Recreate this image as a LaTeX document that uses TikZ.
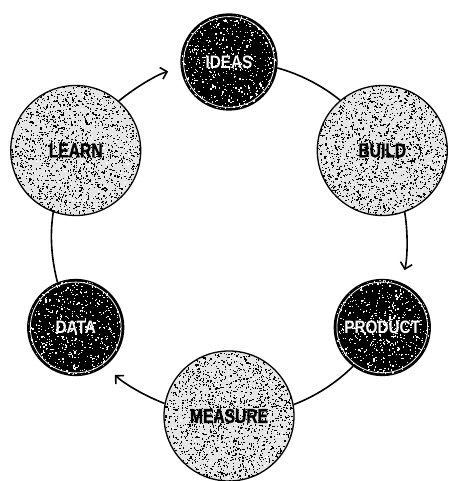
\documentclass[tikz,border=0pt]{standalone}
\usepackage{fontspec}
\usetikzlibrary{arrows.meta}
\newfontfamily\lbldark{Liberation Sans}[FakeStretch=0.85]
\newfontfamily\lbllight{Liberation Sans}[FakeStretch=0.78,FakeBold=1.2]
\newcommand\myspeckle[3]{%
  \foreach \k in {1,...,#3}{%
    \fill[#2] ([shift={({2*#1*rnd},{2*#1*rnd})}]path picture bounding box.south west)
      rectangle ++({0.4+1.4*rnd},{0.4+1.4*rnd});
  }}
\tikzset{
  lightball/.style={circle, draw=black, line width=1.3pt, minimum size=130pt,
    inner sep=0pt, fill=black!10,
    path picture={\myspeckle{65}{black}{2100}\myspeckle{65}{white}{500}},
    font=\lbllight\bfseries\fontsize{20}{20}\selectfont, text=black},
  darkball/.style={circle, draw=black, line width=1.3pt, minimum size=96pt,
    inner sep=0pt, fill=black,
    path picture={\myspeckle{48}{white}{650}
      \draw[white, line width=0.8pt] (path picture bounding box.center) circle (45.4);},
    font=\lbldark\bfseries\fontsize{18}{18}\selectfont, text=white},
  conn/.style={line width=1.6pt, draw=black},
  arr/.style={-{Straight Barb[length=6pt,width=12pt]}, shorten >=13pt},
}
\pgfmathsetseed{7}
\begin{document}
\begin{tikzpicture}[x=1pt,y=1pt]
\useasboundingbox (0,0) rectangle (448,481);
\begin{scope}[shift={(229,242)}]
  \node[darkball]  (ideas)   at (90:177)  {IDEAS};
  \node[lightball] (build)   at (30:177)  {BUILD};
  \node[darkball]  (product) at (-30:177) {PRODUCT};
  \node[lightball] (measure) at (-90:177) {MEASURE};
  \node[darkball]  (data)    at (210:177) {DATA};
  \node[lightball] (learn)   at (150:177) {LEARN};
\end{scope}
\draw[conn] (ideas.-7.75) to[out=-15.5,in=141,looseness=0.86] (build.130.5);
\draw[conn,arr] (build.-70.5) to[out=-81,in=75.5,looseness=0.86] (product.67.75);
\draw[conn] (product.-127.75) to[out=-135.5,in=21,looseness=0.86] (measure.10.5);
\draw[conn,arr] (measure.169.5) to[out=159,in=-44.5,looseness=0.86] (data.-52.25);
\draw[conn] (data.112.25) to[out=104.5,in=261,looseness=0.86] (learn.250.5);
\draw[conn,arr] (learn.49.5) to[out=39,in=195.5,looseness=0.86] (ideas.187.75);
\end{tikzpicture}
\end{document}
